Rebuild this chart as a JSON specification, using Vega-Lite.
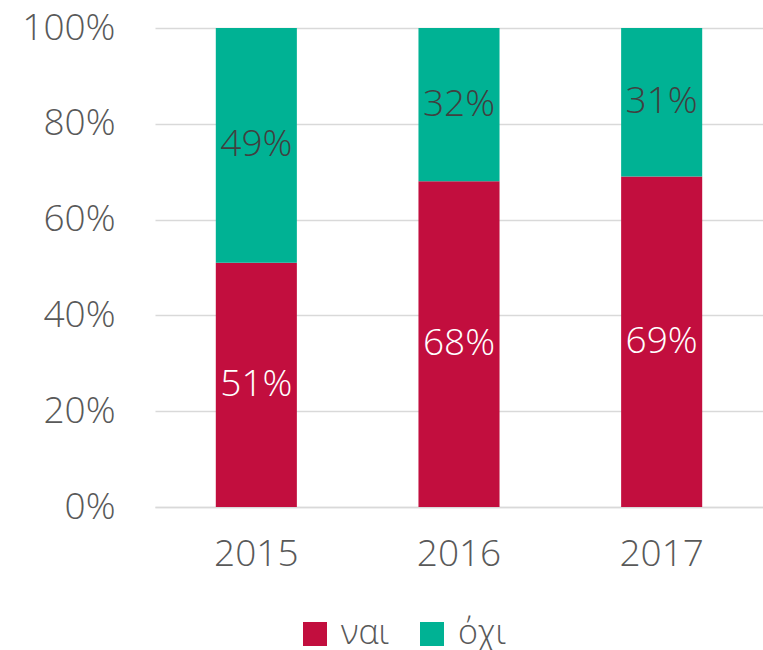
{
  "$schema": "https://vega.github.io/schema/vega-lite/v6.json",
  "width": 608,
  "height": 479,
  "autosize": {"type": "none"},
  "padding": {"left": 155, "top": 28, "right": 0, "bottom": 143},
  "background": "white",
  "config": {
    "view": {"stroke": null},
    "font": "Open Sans",
    "axis": {"labelFont": "Open Sans", "labelColor": "#595959", "labelFontWeight": 300}
  },
  "data": {
    "values": [
      {"year": "2015", "answer": "ναι", "ord": 1, "value": 0.51},
      {"year": "2015", "answer": "όχι", "ord": 2, "value": 0.49},
      {"year": "2016", "answer": "ναι", "ord": 1, "value": 0.68},
      {"year": "2016", "answer": "όχι", "ord": 2, "value": 0.32},
      {"year": "2017", "answer": "ναι", "ord": 1, "value": 0.69},
      {"year": "2017", "answer": "όχι", "ord": 2, "value": 0.31}
    ]
  },
  "transform": [
    {"stack": "value", "groupby": ["year"], "sort": [{"field": "ord", "order": "ascending"}], "as": ["y0", "y1"]},
    {"calculate": "(datum.y0 + datum.y1) / 2", "as": "ymid"}
  ],
  "encoding": {
    "x": {
      "field": "year", "type": "nominal", "title": null,
      "scale": {"paddingInner": 0.6, "paddingOuter": 0.3},
      "axis": {"labelAngle": 0, "labelFontSize": 37, "labelPadding": 29, "ticks": false, "domainColor": "#D9D9D9", "domainWidth": 1.5, "grid": false}
    }
  },
  "layer": [
    {
      "mark": {"type": "bar"},
      "encoding": {
        "y": {
          "field": "y1", "type": "quantitative", "title": null,
          "scale": {"domain": [0, 1]},
          "axis": {"values": [0, 0.2, 0.4, 0.6, 0.8, 1], "format": "%", "labelFontSize": 37, "labelPadding": 40, "ticks": false, "domain": false, "gridColor": "#D9D9D9", "gridWidth": 1.5}
        },
        "y2": {"field": "y0"},
        "color": {
          "field": "answer", "type": "nominal", "title": null,
          "scale": {"domain": ["ναι", "όχι"], "range": ["#C20E3E", "#00B294"]},
          "legend": {
            "orient": "none", "legendX": 143, "legendY": 589, "direction": "horizontal",
            "symbolType": "square", "symbolSize": 576, "symbolStrokeWidth": 0, "symbolOpacity": 1,
            "labelFontSize": 34, "labelColor": "#595959", "labelFont": "Open Sans", "labelFontWeight": 300,
            "labelOffset": 9, "columnPadding": 26
          }
        }
      }
    },
    {
      "mark": {"type": "text", "fontSize": 37, "font": "Open Sans", "fontWeight": 300, "baseline": "middle"},
      "encoding": {
        "y": {"field": "ymid", "type": "quantitative"},
        "text": {"field": "value", "type": "quantitative", "format": ".0%"},
        "color": {
          "condition": {"test": "datum.answer === 'ναι'", "value": "white"},
          "value": "#404040"
        }
      }
    }
  ]
}
